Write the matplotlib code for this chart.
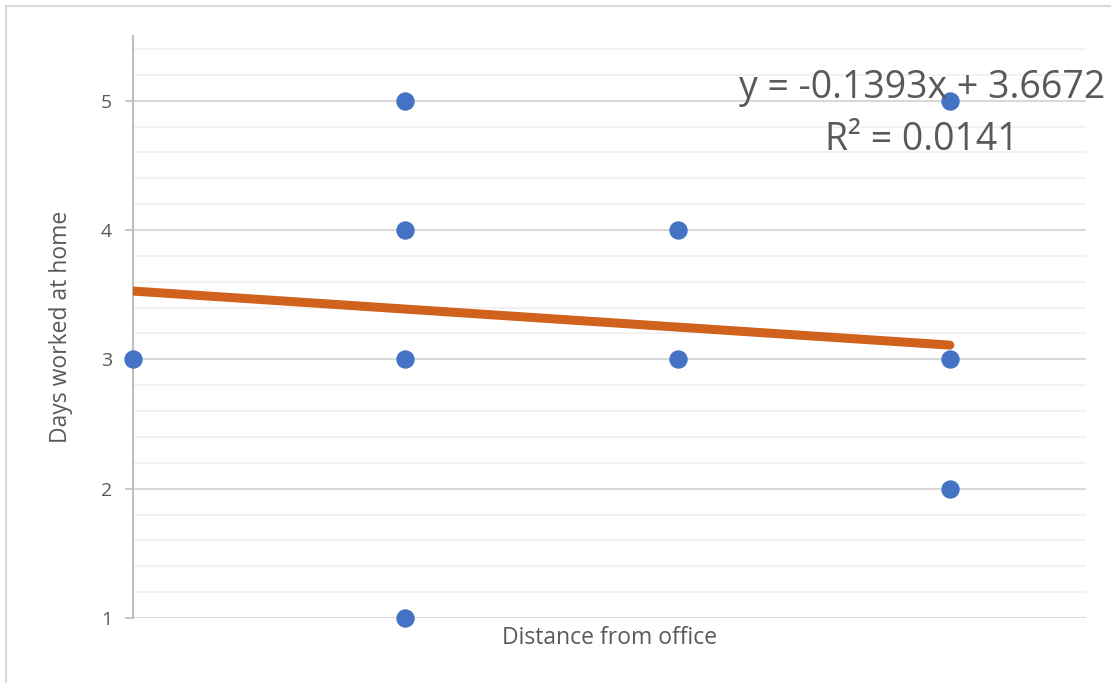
import matplotlib.pyplot as plt
from matplotlib.patches import Rectangle
from matplotlib.ticker import MultipleLocator

# data
distance = [1, 2, 2, 2, 2, 3, 3, 4, 4, 4]
days_home = [3, 5, 4, 3, 1, 4, 3, 5, 3, 2]
slope = -0.1393
intercept = 3.6672
r_squared = 0.0141
trend_x = [1, 4]

plt.rcParams['font.family'] = ['Open Sans', 'DejaVu Sans']
grey_text = '#595959'

fig = plt.figure(figsize=(11.11, 6.83), dpi=100)
ax = fig.add_axes([133/1111, 1 - 618/683, (1086-133)/1111, (618-36)/683])

# light chart border like the Excel chart area
fig.patches.append(Rectangle((6/1111, -0.1), 1.2, 1 - 6/683 + 0.1, transform=fig.transFigure,
                             fill=False, edgecolor='#D9D9D9', linewidth=1.5))

ax.set_xlim(1, 4.5)
ax.set_ylim(1, 5.5)
ax.yaxis.set_major_locator(MultipleLocator(1))
ax.yaxis.set_minor_locator(MultipleLocator(0.2))
ax.set_yticks([1, 2, 3, 4, 5])
ax.set_xticks([])

ax.grid(which='major', axis='y', color='#D9D9D9', linewidth=1.5, zorder=0)
ax.grid(which='minor', axis='y', color='#F2F2F2', linewidth=1.5, zorder=0)
ax.tick_params(axis='y', which='major', length=6, width=1.2, color='#BFBFBF',
               labelsize=14, labelcolor=grey_text, pad=9)
ax.tick_params(axis='y', which='minor', length=0)

for s in ['top', 'right', 'bottom']:
    ax.spines[s].set_visible(False)
ax.spines['left'].set_color('#BFBFBF')
ax.spines['left'].set_linewidth(1.5)

ax.scatter(distance, days_home, s=150, color='#4472C4', zorder=3, clip_on=False)

trend_y = [slope * x + intercept for x in trend_x]
ax.plot(trend_x, trend_y, color='#D0621D', linewidth=6.5, solid_capstyle='round', zorder=4)

ax.set_xlabel('Distance from office', fontsize=16.5, color=grey_text, labelpad=6)
ax.set_ylabel('Days worked at home', fontsize=16.5, color=grey_text, labelpad=20)

fig.text(922/1111, 1 - 114/683,
         'y = %.4fx + %.4f\nR² = %.4f' % (slope, intercept, r_squared),
         ha='center', va='center', fontsize=27, color=grey_text, linespacing=1.45, zorder=5)

plt.savefig('out.png', dpi=100)
